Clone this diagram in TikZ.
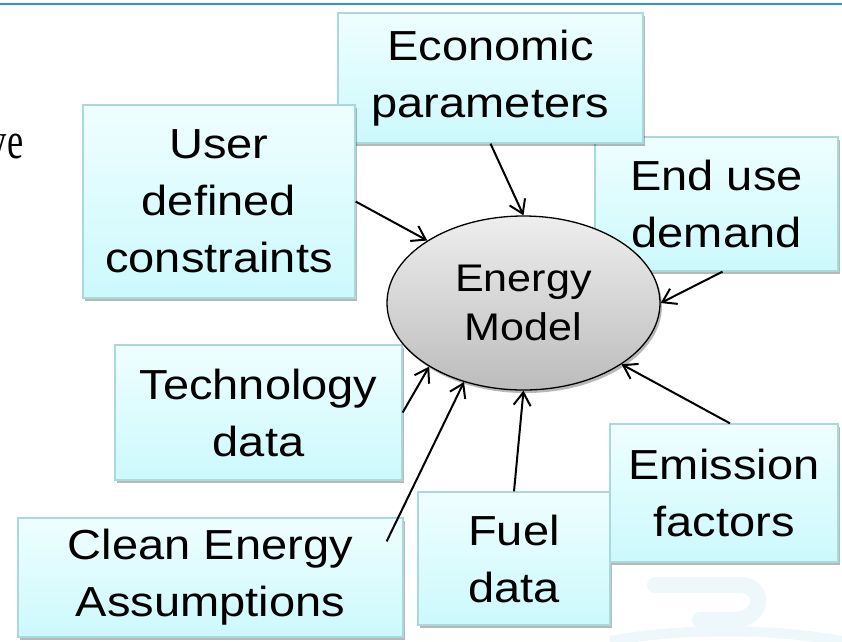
\documentclass[tikz,border=0pt]{standalone}
\usepackage{fontspec}
\setmainfont{Liberation Sans}
\newfontfamily\boxfont[FakeStretch=1.12]{Liberation Sans}
\newfontfamily\slideserif{Liberation Serif}
\usetikzlibrary{shapes.geometric,shadows,arrows.meta}
\definecolor{boxtop}{HTML}{EFFEFF}
\definecolor{boxbot}{HTML}{CCF9FC}
\definecolor{boxedge}{HTML}{A9D8DD}
\definecolor{elltop}{HTML}{EEEEEE}
\definecolor{ellbot}{HTML}{BCBCBC}
\definecolor{topline}{HTML}{2A96D4}
\definecolor{wmark}{HTML}{EEF7FA}
\tikzset{
  inbox/.style={rectangle, draw=boxedge, line width=1.3pt, top color=boxtop, bottom color=boxbot,
    drop shadow={shadow xshift=2pt, shadow yshift=-3pt, fill=black, opacity=0.28},
    align=center, inner sep=0pt, font=\boxfont\fontsize{42}{57}\selectfont},
  model/.style={ellipse, draw=black, line width=1.3pt, top color=elltop, bottom color=ellbot,
    drop shadow={shadow xshift=2pt, shadow yshift=-3pt, fill=black, opacity=0.28},
    align=center, inner sep=0pt, minimum width=273pt, minimum height=174pt,
    font=\boxfont\fontsize{38.5}{49}\selectfont},
  feed/.style={draw=black, line width=2pt, -{Straight Barb[length=13pt,width=17pt,line width=2pt]}}
}
\begin{document}
\begin{tikzpicture}[x=1pt,y=-1pt]
\useasboundingbox (0,0) rectangle (842,641);
\fill[white] (0,0) rectangle (842,641);
% faint watermark
\draw[wmark, line width=16pt, line cap=round, line join=round] (655,585) -- (740,585) .. controls (765,585) and (765,618) .. (735,620) -- (700,620);
\draw[wmark, line width=10pt] (610,641) .. controls (680,628) and (770,628) .. (842,641);
% top rule
\draw[topline, line width=2.5pt] (0,4) -- (842,4);
\node[font=\slideserif\fontsize{52}{60}\selectfont, anchor=base east, inner sep=0pt] (ve) at (23.5,158) {\scalebox{0.7}[1]{ve}};
% boxes
\node[inbox, minimum width=243pt, minimum height=134pt] (enduse) at (716.5,204) {End use\\demand};
\node[inbox, minimum width=305pt, minimum height=130pt] (eco) at (490.5,78) {Economic\\parameters};
\node[inbox, minimum width=272pt, minimum height=193pt] (user) at (219,201.5) {User\\defined\\constraints};
\node[inbox, minimum width=287pt, minimum height=135pt] (tech) at (258.5,412.5) {Technology\\data};
\node[inbox, minimum width=192pt, minimum height=133pt] (fuel) at (514,558.5) {Fuel\\data};
\node[inbox, minimum width=228pt, minimum height=138pt] (emis) at (724,493) {Emission\\factors};
\node[inbox, minimum width=385pt, minimum height=119pt] (clean) at (210.5,577.5) {Clean Energy\\Assumptions};
% model
\node[model] (em) at (523.5,303) {Energy\\Model};
% connectors
\draw[feed] (user.east) -- (em.147);
\draw[feed] (eco.south) -- (em.north);
\draw[feed] ([xshift=6pt]enduse.south) -- (em.east);
\draw[feed] (tech.east) -- (em.214);
\draw[feed] ([xshift=-17pt,yshift=-24pt]clean.north east) -- (em.233);
\draw[feed] (fuel.north) -- (em.south);
\draw[feed] ([xshift=6pt]emis.north) -- (em.328);
\end{tikzpicture}
\end{document}
